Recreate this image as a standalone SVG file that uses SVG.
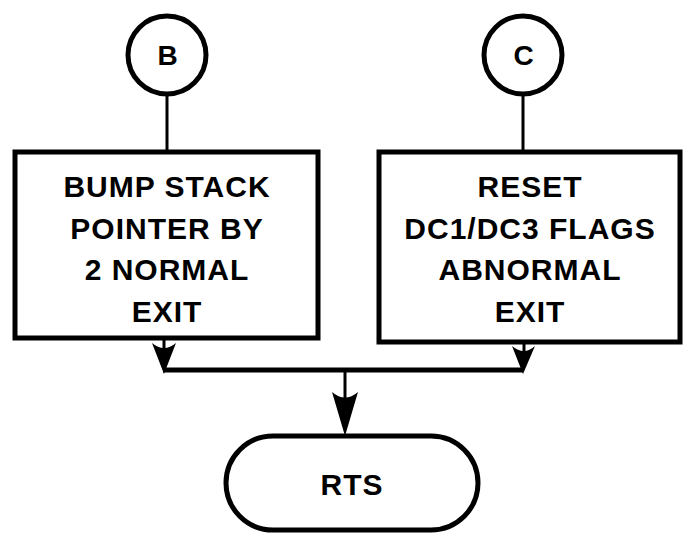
<svg xmlns="http://www.w3.org/2000/svg" width="686" height="536" viewBox="0 0 686 536">
<style>
.shape{fill:#fff;stroke:#000;stroke-width:5}
.conn{fill:none;stroke:#000;stroke-width:3}
.bus{fill:none;stroke:#000;stroke-width:5}
.head{fill:#000}
.lbl{font-family:"Liberation Sans",Arial,sans-serif;font-weight:bold;font-size:30px;letter-spacing:1px;text-anchor:middle;fill:#000}
.sm{font-size:28px}
</style>
<rect width="686" height="536" fill="#fff"/>
<g id="nodeB">
<circle class="shape" cx="167" cy="55" r="39"/>
<text class="lbl sm" x="168" y="65">B</text>
</g>
<g id="nodeC">
<circle class="shape" cx="523" cy="55" r="39"/>
<text class="lbl sm" x="524" y="65">C</text>
</g>
<g id="box1">
<rect class="shape" x="15" y="152" width="303" height="186"/>
<text class="lbl" x="167" y="197">BUMP STACK</text>
<text class="lbl" x="167" y="239">POINTER BY</text>
<text class="lbl" x="167" y="280">2 NORMAL</text>
<text class="lbl" x="167" y="322">EXIT</text>
</g>
<g id="box2">
<rect class="shape" x="379" y="152" width="301" height="190"/>
<text class="lbl" x="530" y="197">RESET</text>
<text class="lbl" x="530" y="239">DC1/DC3 FLAGS</text>
<text class="lbl" x="530" y="280">ABNORMAL</text>
<text class="lbl" x="530" y="322">EXIT</text>
</g>
<g id="rts">
<rect class="shape" x="226" y="436" width="252" height="94" rx="47" ry="47"/>
<text class="lbl" x="352" y="495">RTS</text>
</g>
<g id="connectors">
<line class="conn" x1="167" y1="94" x2="167" y2="150"/>
<line class="conn" x1="523" y1="94" x2="523" y2="150"/>
<line class="conn" x1="164" y1="340" x2="164" y2="350"/>
<line class="conn" x1="524" y1="344" x2="524" y2="352"/>
<path class="bus" d="M163 370 H523"/>
<path class="head" d="M152 343 L164 374 L176 343 Q164 353 152 343 Z"/>
<path class="head" d="M512 346 L523 374 L535 346 Q524 356 512 346 Z"/>
<line class="conn" x1="345" y1="370" x2="345" y2="398"/>
<path class="head" d="M332 392 L345 436 L358 392 Q345 403 332 392 Z"/>
</g>
</svg>
